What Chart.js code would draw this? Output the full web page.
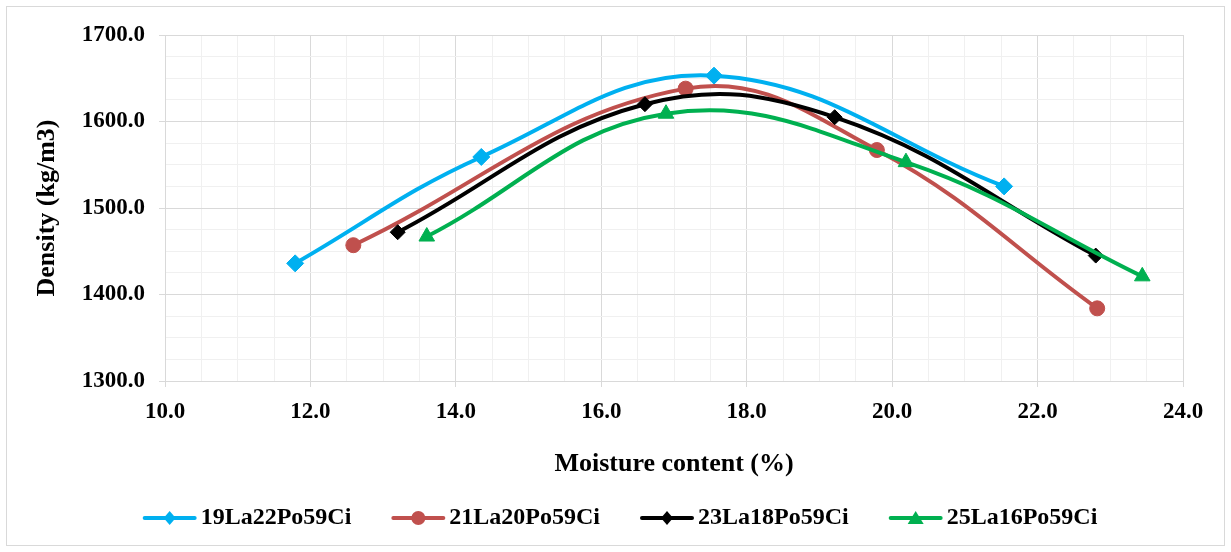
<!DOCTYPE html>
<html>
<head>
<meta charset="utf-8">
<title>Density vs moisture content</title>
<script src="https://cdn.jsdelivr.net/npm/chart.js@4.4.0/dist/chart.umd.min.js"></script>
<style>
  html, body { margin: 0; padding: 0; background: #ffffff; }
  #wrap { width: 1231px; height: 552px; }
</style>
</head>
<body>
<div id="wrap"><canvas id="densityChart" width="1231" height="552"></canvas></div>
<script>
// series names
const seriesNames = ["19La22Po59Ci", "21La20Po59Ci", "23La18Po59Ci", "25La16Po59Ci"];

// moisture content (%) and density (kg/m3)
const moisture19 = [11.79, 14.35, 17.55, 21.54];
const density19 = [1436, 1559, 1653, 1525];

const moisture21 = [12.59, 17.16, 19.79, 22.82];
const density21 = [1457, 1638, 1567, 1384];

const moisture23 = [13.2, 16.6, 19.21, 22.8];
const density23 = [1472, 1620, 1605, 1445];

const moisture25 = [13.6, 16.89, 20.19, 23.44];
const density25 = [1467, 1609, 1553, 1421];

// labelled ticks
const xTicks = [10, 12, 14, 16, 18, 20, 22, 24];
const yTicks = [1300, 1400, 1500, 1600, 1700];

const FONT = "'Liberation Serif', 'Times New Roman', serif";
const MAJOR_GRID = "#d9d9d9";
const MINOR_GRID = "#f0f0f0";

function toPoints(xs, ys) {
  return xs.map(function (x, i) { return { x: x, y: ys[i] }; });
}

function isMajor(value, list) {
  return list.some(function (t) { return Math.abs(t - value) < 1e-6; });
}

// legend entries: short line with the marker in the middle, then the name
const lineLegend = {
  id: "lineLegend",
  afterDraw: function (chart) {
    const ctx = chart.ctx;
    const sets = chart.data.datasets;
    const lineLen = 54, textGap = 4, itemGap = 40, y = 518;
    ctx.save();
    ctx.font = "bold 24px " + FONT;
    ctx.textBaseline = "middle";
    const widths = sets.map(function (d) { return ctx.measureText(d.label).width; });
    let total = itemGap * (sets.length - 1);
    widths.forEach(function (w) { total += lineLen + textGap + w; });
    let x = 620 - total / 2;
    sets.forEach(function (ds, i) {
      ctx.strokeStyle = ds.borderColor;
      ctx.fillStyle = ds.borderColor;
      ctx.lineWidth = 4;
      ctx.lineCap = "round";
      ctx.beginPath();
      ctx.moveTo(x + 2, y);
      ctx.lineTo(x + lineLen - 2, y);
      ctx.stroke();
      const cx = x + lineLen / 2;
      ctx.beginPath();
      if (ds.pointStyle === "circle") {
        ctx.arc(cx, y, 7, 0, Math.PI * 2);
      } else if (ds.pointStyle === "triangle") {
        ctx.moveTo(cx, y - 7);
        ctx.lineTo(cx + 8, y + 6);
        ctx.lineTo(cx - 8, y + 6);
        ctx.closePath();
      } else {
        ctx.moveTo(cx, y - 7);
        ctx.lineTo(cx + 6, y);
        ctx.lineTo(cx, y + 7);
        ctx.lineTo(cx - 6, y);
        ctx.closePath();
      }
      ctx.fill();
      ctx.fillStyle = "#000000";
      ctx.fillText(ds.label, x + lineLen + textGap, y);
      x += lineLen + textGap + widths[i] + itemGap;
    });
    // outer frame
    ctx.strokeStyle = "#d9d9d9";
    ctx.lineWidth = 1;
    ctx.strokeRect(6.5, 6.5, 1218, 539);
    ctx.restore();
  }
};

const ctx = document.getElementById("densityChart").getContext("2d");
const densityChart = new Chart(ctx, {
  type: "scatter",
  data: {
    datasets: [
      {
        label: seriesNames[0],
        data: toPoints(moisture19, density19),
        borderColor: "#00b0f0",
        backgroundColor: "#00b0f0",
        pointStyle: "rectRot",
        pointRadius: 8.5,
        order: 4,
      },
      {
        label: seriesNames[1],
        data: toPoints(moisture21, density21),
        borderColor: "#c0504d",
        backgroundColor: "#c0504d",
        pointStyle: "circle",
        pointRadius: 7.5,
        order: 3,
      },
      {
        label: seriesNames[2],
        data: toPoints(moisture23, density23),
        borderColor: "#000000",
        backgroundColor: "#000000",
        pointStyle: "rectRot",
        pointRadius: 7.5,
        order: 2,
      },
      {
        label: seriesNames[3],
        data: toPoints(moisture25, density25),
        borderColor: "#00b050",
        backgroundColor: "#00b050",
        pointStyle: "triangle",
        pointRadius: 9,
        order: 1,
      },
    ],
  },
  options: {
    responsive: false,
    animation: false,
    showLine: true,
    layout: {
      padding: { left: 20, top: 35, right: 48, bottom: 61 },
    },
    elements: {
      line: { borderWidth: 4, tension: 0.4 },
      point: { borderWidth: 1 },
    },
    plugins: {
      legend: { display: false },
      tooltip: { enabled: false },
    },
    scales: {
      x: {
        type: "linear",
        min: 10,
        max: 24,
        afterFit: function (s) { s.height = 110; },
        ticks: {
          stepSize: 0.5,
          autoSkip: false,
          maxRotation: 0,
          padding: 11,
          color: "#000000",
          font: { family: FONT, size: 23, weight: "bold" },
          callback: function (v) { return isMajor(v, xTicks) ? v.toFixed(1) : ""; },
        },
        grid: {
          color: function (c) { return c.tick && isMajor(c.tick.value, xTicks) ? MAJOR_GRID : MINOR_GRID; },
          tickColor: function (c) { return c.tick && isMajor(c.tick.value, xTicks) ? MAJOR_GRID : "rgba(0,0,0,0)"; },
          tickLength: 6,
        },
        border: { color: MAJOR_GRID },
        title: {
          display: true,
          text: "Moisture content (%)",
          color: "#000000",
          font: { family: FONT, size: 26, weight: "bold" },
          padding: { top: 0, bottom: 11 },
        },
      },
      y: {
        min: 1300,
        max: 1700,
        afterFit: function (s) { s.width = 145; },
        ticks: {
          stepSize: 25,
          autoSkip: false,
          padding: 14,
          color: "#000000",
          font: { family: FONT, size: 23, weight: "bold" },
          callback: function (v) { return isMajor(v, yTicks) ? v.toFixed(1) : ""; },
        },
        grid: {
          color: function (c) { return c.tick && isMajor(c.tick.value, yTicks) ? MAJOR_GRID : MINOR_GRID; },
          tickColor: function (c) { return c.tick && isMajor(c.tick.value, yTicks) ? MAJOR_GRID : "rgba(0,0,0,0)"; },
          tickLength: 6,
        },
        border: { color: MAJOR_GRID },
        title: {
          display: true,
          text: "Density (kg/m3)",
          color: "#000000",
          font: { family: FONT, size: 26, weight: "bold" },
          padding: { top: 12, bottom: 0 },
        },
      },
    },
  },
  plugins: [lineLegend],
});
</script>
</body>
</html>
